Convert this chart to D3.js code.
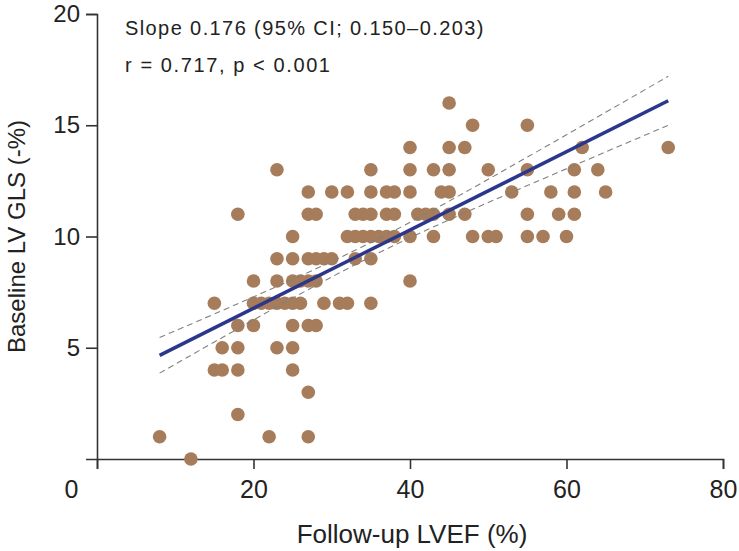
<!DOCTYPE html>
<html>
<head>
<meta charset="utf-8">
<script src="https://cdn.jsdelivr.net/npm/d3@7"></script>
<style>
  html, body { margin: 0; padding: 0; background: #fff; }
  svg { display: block; }
  text { font-family: "Liberation Sans", Arial, sans-serif; fill: #222; }
</style>
</head>
<body>
<svg id="chart" width="739" height="551"></svg>
<script>
// Follow-up LVEF (%) for each patient
const lvef = [
  12,
  8, 22, 27,
  18,
  27,
  15, 16, 18, 25,
  16, 18, 23, 25,
  18, 20, 25, 27, 28,
  15, 20, 21, 22, 23, 24, 25, 26, 29, 31, 32, 35,
  20, 23, 25, 26, 27, 28, 40,
  23, 25, 27, 28, 29, 30, 33, 35,
  25, 32, 33, 34, 35, 36, 37, 38, 40, 43, 48, 50, 51, 55, 57, 60,
  18, 27, 28, 33, 34, 35, 37, 38, 41, 42, 43, 45, 47, 55, 59, 61,
  27, 30, 32, 35, 37, 38, 40, 44, 45, 53, 58, 61, 65,
  23, 35, 40, 43, 45, 50, 55, 61, 64,
  40, 45, 47, 62, 73,
  48, 55,
  45
];
// Baseline LV GLS (-%) for each patient
const gls = [
  0,
  1, 1, 1,
  2,
  3,
  4, 4, 4, 4,
  5, 5, 5, 5,
  6, 6, 6, 6, 6,
  7, 7, 7, 7, 7, 7, 7, 7, 7, 7, 7, 7,
  8, 8, 8, 8, 8, 8, 8,
  9, 9, 9, 9, 9, 9, 9, 9,
  10, 10, 10, 10, 10, 10, 10, 10, 10, 10, 10, 10, 10, 10, 10, 10,
  11, 11, 11, 11, 11, 11, 11, 11, 11, 11, 11, 11, 11, 11, 11, 11,
  12, 12, 12, 12, 12, 12, 12, 12, 12, 12, 12, 12, 12,
  13, 13, 13, 13, 13, 13, 13, 13, 13,
  14, 14, 14, 14, 14,
  15, 15,
  16
];
// Regression line and 95% CI band
const fitX = [8, 73];
const fitY = [4.66, 16.10];
const ciX = [8, 15, 25, 35, 45, 55, 65, 73];
const ciUpper = [5.46, 6.52, 8.07, 9.73, 11.59, 13.57, 15.58, 17.20];
const ciLower = [3.86, 5.26, 7.23, 9.09, 10.75, 12.29, 13.80, 15.00];
// Axis ticks and labels
const xTicks = [0, 20, 40, 60, 80];
const yTicks = [5, 10, 15, 20];
const xTitle = "Follow-up LVEF (%)";
const yTitle = "Baseline LV GLS (-%)";
const annotations = ["Slope 0.176 (95% CI; 0.150\u20130.203)", "r = 0.717, p < 0.001"];

const svg = d3.select("#chart");
const x = d3.scaleLinear().domain([0, 80]).range([97, 723]);
const y = d3.scaleLinear().domain([0, 20]).range([459, 14]);

const axisColor = "#333";

// X axis
const gx = svg.append("g").attr("transform", `translate(0,${y(0)})`)
  .call(d3.axisBottom(x).tickValues(xTicks).tickSize(10).tickSizeOuter(10).tickPadding(11));
gx.select(".domain").attr("stroke", axisColor).attr("stroke-width", 1.6);
gx.selectAll(".tick line").attr("stroke", axisColor).attr("stroke-width", 1.6);
gx.selectAll(".tick text").attr("font-size", 25).attr("font-family", "Liberation Sans, Arial, sans-serif").attr("fill", "#222");
gx.selectAll(".tick").filter(d => d === 0).select("text").attr("x", -26);

// Y axis
const gy = svg.append("g").attr("transform", `translate(${x(0)},0)`)
  .call(d3.axisLeft(y).tickValues(yTicks).tickSize(11).tickSizeOuter(11).tickPadding(6));
gy.select(".domain").attr("stroke", axisColor).attr("stroke-width", 1.6);
gy.selectAll(".tick line").attr("stroke", axisColor).attr("stroke-width", 1.6);
gy.selectAll(".tick text").attr("font-size", 24).attr("font-family", "Liberation Sans, Arial, sans-serif").attr("fill", "#222");

// Titles
svg.append("text")
  .attr("x", (x(0) + x(80)) / 2 + 2).attr("y", 543)
  .attr("text-anchor", "middle").attr("font-size", 26)
  .text(xTitle);
svg.append("text")
  .attr("transform", `translate(25,${(y(0) + y(20)) / 2}) rotate(-90)`)
  .attr("text-anchor", "middle").attr("font-size", 24)
  .text(yTitle);

// Points
const pts = lvef.map((v, i) => ({ x: v, y: gls[i] }));
svg.append("g").selectAll("circle").data(pts).join("circle")
  .attr("cx", d => x(d.x)).attr("cy", d => y(d.y)).attr("r", 6.8)
  .attr("fill", "#A67C5A");

// CI dashed lines
const ciLine = d3.line().x(d => x(d[0])).y(d => y(d[1])).curve(d3.curveNatural);
[ciUpper, ciLower].forEach(arr => {
  svg.append("path")
    .datum(ciX.map((v, i) => [v, arr[i]]))
    .attr("d", ciLine)
    .attr("fill", "none").attr("stroke", "#808080").attr("stroke-width", 1.1)
    .attr("stroke-dasharray", "6,4");
});

// Regression line
svg.append("path")
  .datum(fitX.map((v, i) => [v, fitY[i]]))
  .attr("d", d3.line().x(d => x(d[0])).y(d => y(d[1])))
  .attr("fill", "none").attr("stroke", "#2A378C").attr("stroke-width", 3.5);

// Annotations
svg.append("text").attr("x", 125).attr("y", 35).attr("font-size", 20)
  .attr("letter-spacing", 1.4).text(annotations[0]);
svg.append("text").attr("x", 125).attr("y", 72).attr("font-size", 20)
  .attr("letter-spacing", 1.6).text(annotations[1]);
</script>
</body>
</html>
